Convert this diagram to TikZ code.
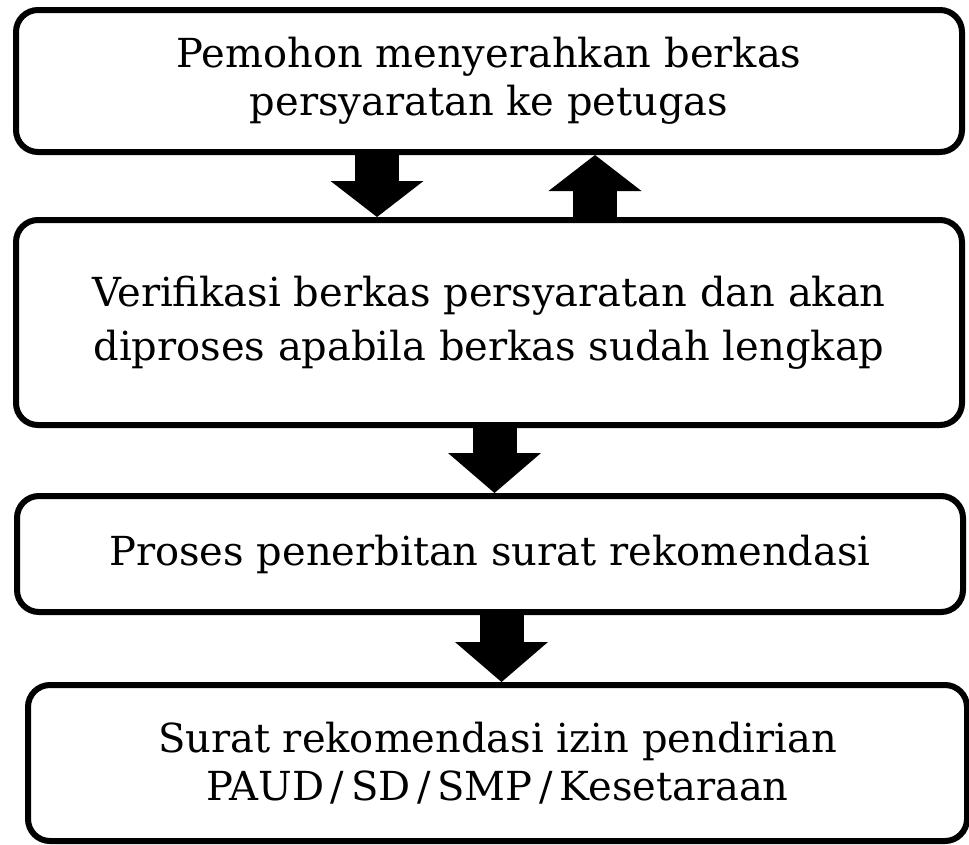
\documentclass[tikz,border=0pt]{standalone}
\usepackage{fontspec}
\setmainfont{DejaVu Serif}
\usetikzlibrary{arrows.meta,calc}
\tikzset{
  box/.style={draw, line width=6pt, rounded corners=22pt, align=center, inner sep=0pt,
    font=\fontsize{40}{48}\selectfont},
  fatarrow/.style={line width=44pt, -{Triangle[width=93pt,length=#1,line width=0pt]}},
  fatarrow/.default=36pt
}
\begin{document}
\begin{tikzpicture}[x=1pt,y=-1pt]
\useasboundingbox (0,0) rectangle (969,844);
\node[box, minimum width=946pt, minimum height=142pt] (b1) at (489,81)
  {Pemohon menyerahkan berkas\\persyaratan ke petugas};
\node[box, minimum width=946pt, minimum height=205pt] (b2) at (489,322.5)
  {Verifikasi berkas persyaratan dan akan\\[6pt]diproses apabila berkas sudah lengkap};
\node[box, minimum width=946pt, minimum height=116pt] (b3) at (490,554)
  {Proses penerbitan surat rekomendasi};
\node[box, minimum width=939pt, minimum height=156pt] (b4) at (497.5,763)
  {Surat rekomendasi izin pendirian\\PAUD\,/\,SD\,/\,SMP\,/\,Kesetaraan};
\coordinate (a1) at (377,0);
\coordinate (a2) at (595,0);
\coordinate (a3) at (494.5,0);
\coordinate (a4) at (501.5,0);
\draw[fatarrow] (b1.south -| a1) -- (b2.north -| a1);
\draw[fatarrow] (b2.north -| a2) -- (b1.south -| a2);
\draw[fatarrow=40pt] (b2.south -| a3) -- (b3.north -| a3);
\draw[fatarrow=40pt] (b3.south -| a4) -- (b4.north -| a4);
\end{tikzpicture}
\end{document}
